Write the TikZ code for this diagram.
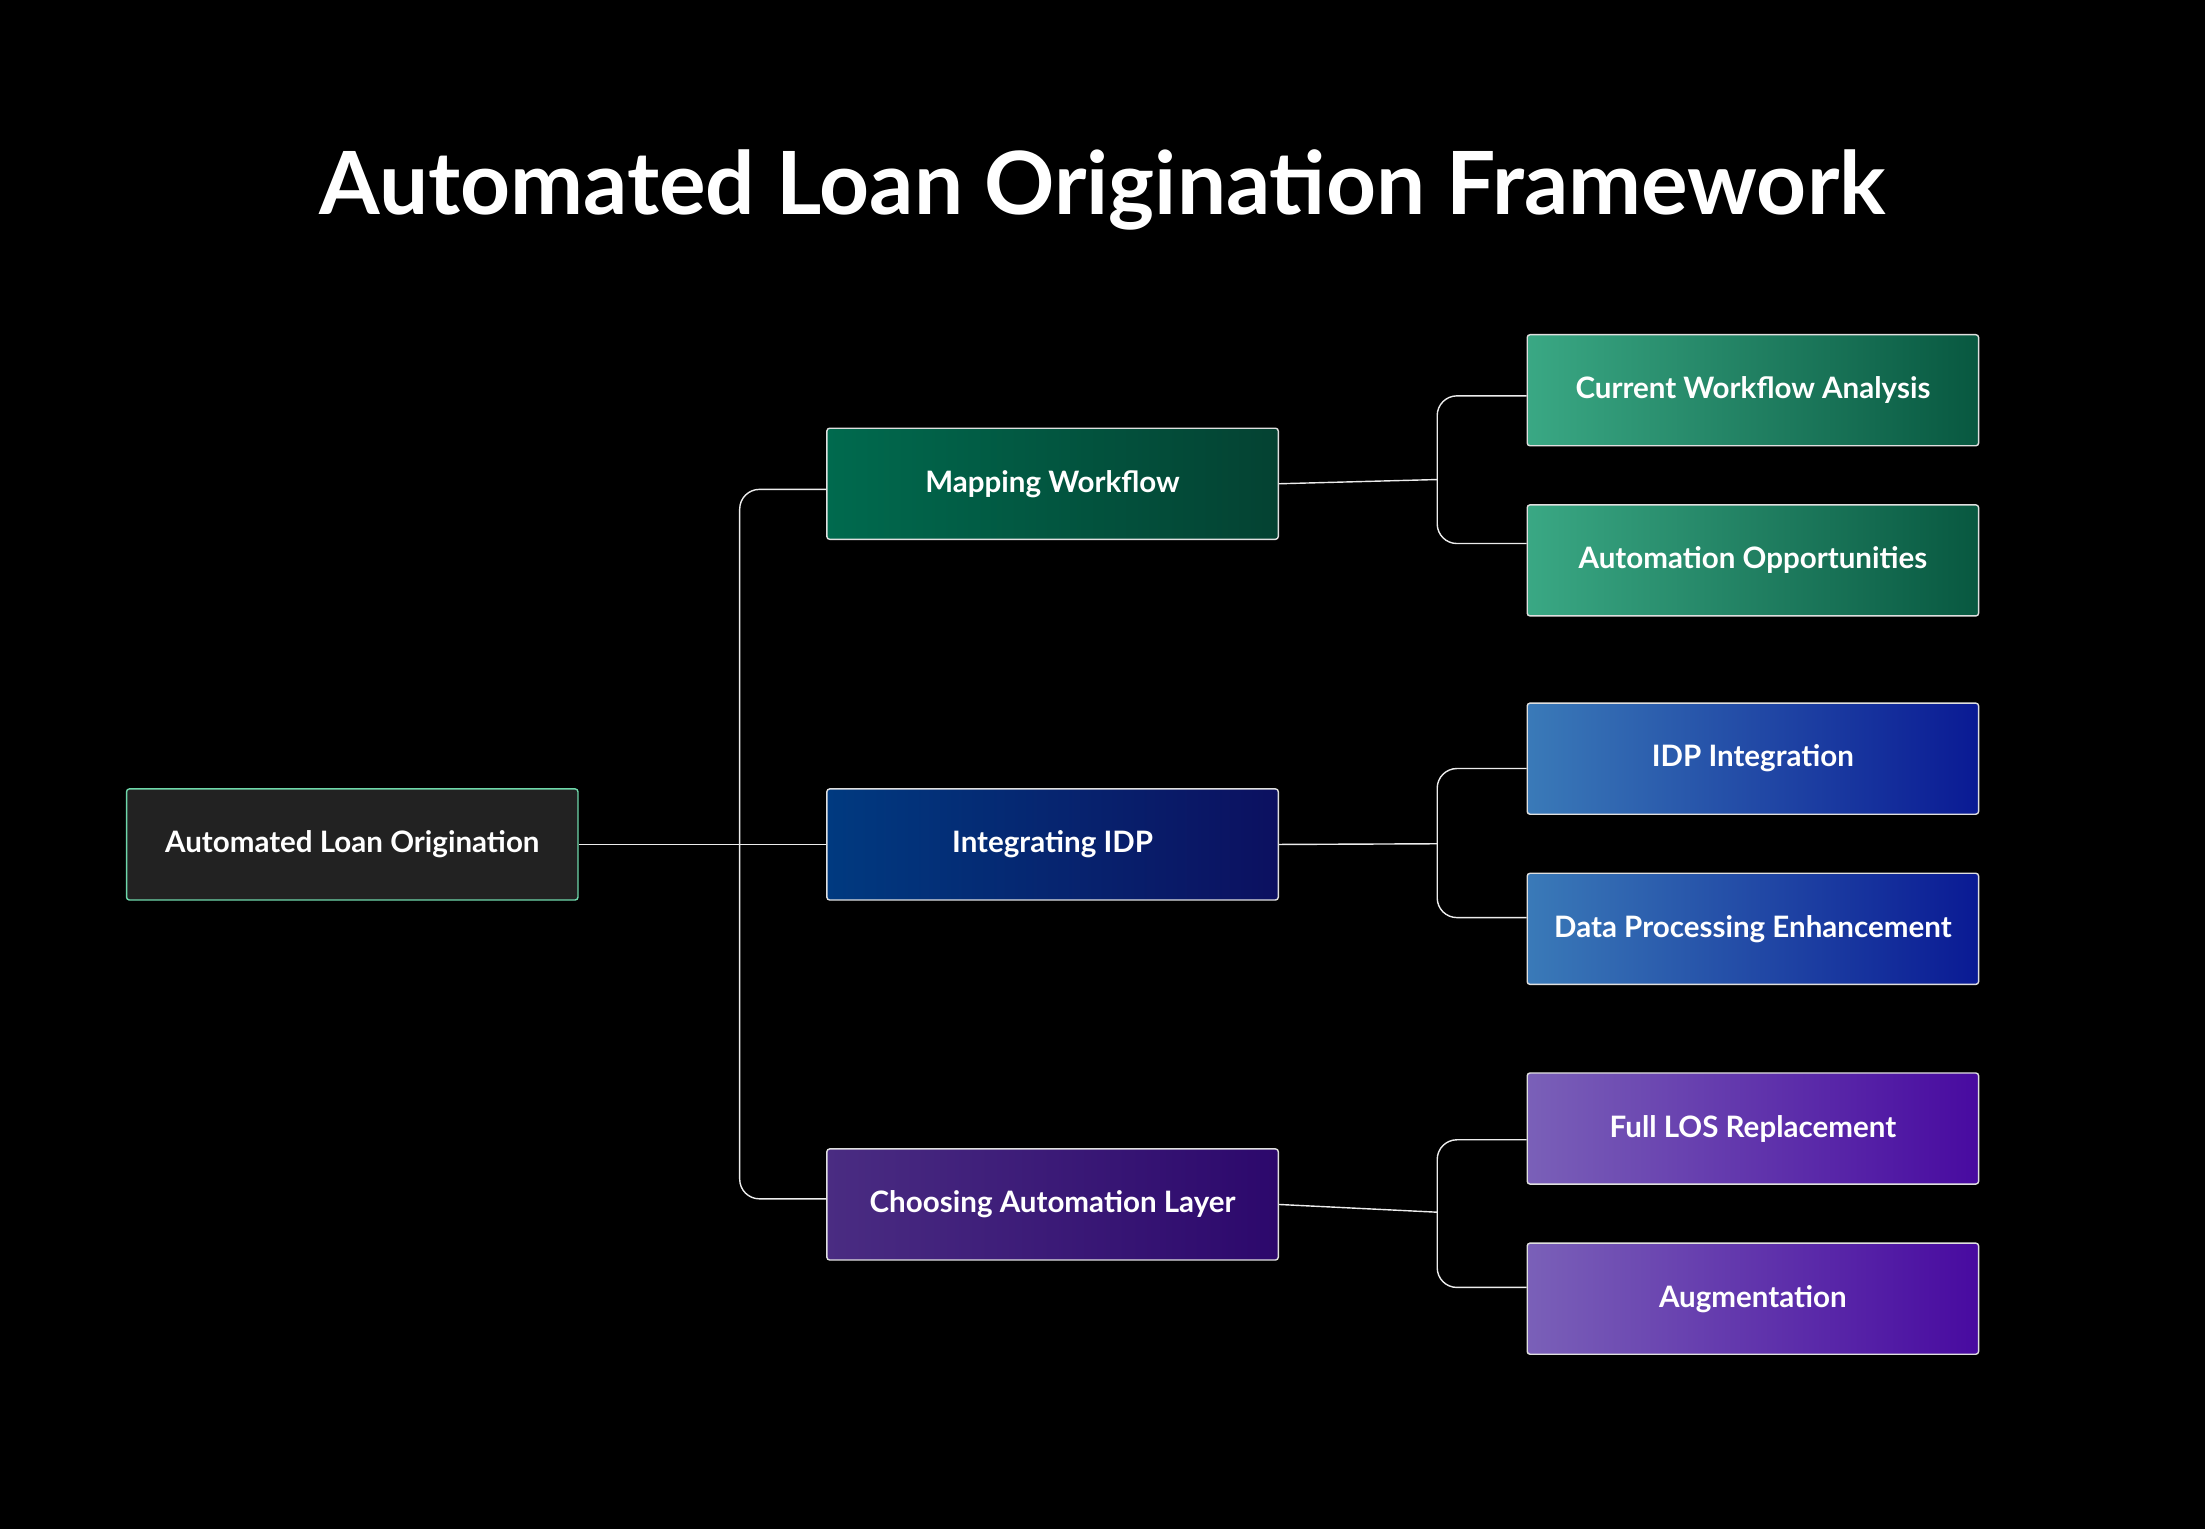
\documentclass[tikz,border=0pt]{standalone}
\usepackage{fontspec}
\setmainfont{Lato}
\begin{document}
\begin{tikzpicture}[x=1pt,y=-1pt,
  box/.style={draw=white!75!gray,line width=1pt,rounded corners=2pt,minimum width=321pt,minimum height=79pt,text=white,font=\fontsize{21}{24}\selectfont\bfseries,inner sep=0pt},
  conn/.style={draw=white!85!gray,line width=1pt,rounded corners=14pt},
  gr/.style={box,left color=green!45!black!70!cyan,right color=black!60!green},
  mw/.style={box,left color=#1,right color=#1}]
\useasboundingbox[fill=black] (0,0) rectangle (1568,1087);
\node[text=white,font=\fontsize{62}{70}\selectfont\bfseries] (title) at (784,135) {Automated Loan Origination Framework};
\node[box,fill={rgb,255:red,34;green,34;blue,34},draw={rgb,255:red,110;green,215;blue,170}] (root) at (250.5,600.5) {Automated Loan Origination};
\node[box,left color={rgb,255:red,0;green,106;blue,78},right color={rgb,255:red,4;green,66;blue,50}] (mw) at (748.5,344) {Mapping Workflow};
\node[box,left color={rgb,255:red,0;green,58;blue,128},right color={rgb,255:red,12;green,16;blue,96}] (ii) at (748.5,600.5) {Integrating IDP};
\node[box,left color={rgb,255:red,74;green,44;blue,130},right color={rgb,255:red,44;green,8;blue,108}] (ca) at (748.5,856.5) {Choosing Automation Layer};
\node[box,left color={rgb,255:red,58;green,168;blue,132},right color={rgb,255:red,8;green,88;blue,64}] (cwa) at (1246.5,277.5) {Current Workflow Analysis};
\node[box,left color={rgb,255:red,58;green,168;blue,132},right color={rgb,255:red,8;green,88;blue,64}] (ao) at (1246.5,398.5) {Automation Opportunities};
\node[box,left color={rgb,255:red,58;green,122;blue,184},right color={rgb,255:red,10;green,26;blue,148}] (idp) at (1246.5,539.5) {IDP Integration};
\node[box,left color={rgb,255:red,58;green,122;blue,184},right color={rgb,255:red,10;green,26;blue,148}] (dpe) at (1246.5,660.5) {Data Processing Enhancement};
\node[box,left color={rgb,255:red,122;green,96;blue,184},right color={rgb,255:red,72;green,10;blue,160}] (flr) at (1246.5,802.5) {Full LOS Replacement};
\node[box,left color={rgb,255:red,122;green,96;blue,184},right color={rgb,255:red,72;green,10;blue,160}] (aug) at (1246.5,923.5) {Augmentation};
% level 1
\draw[conn] (root.east) -- (ii.west);
\draw[conn] ([yshift=-4pt]mw.west) -| (526,600) |- ([yshift=4pt]ca.west);
% level 2
\draw[conn] (mw.east) -- (1022,341);
\draw[conn] ([yshift=-4pt]cwa.west) -| (1022,341) |- ([yshift=12pt]ao.west);
\draw[conn] (ii.east) -- (1022,600);
\draw[conn] ([yshift=-7pt]idp.west) -| (1022,600) |- ([yshift=8pt]dpe.west);
\draw[conn] (ca.east) -- (1022,862);
\draw[conn] ([yshift=-8pt]flr.west) -| (1022,862) |- ([yshift=8pt]aug.west);
\end{tikzpicture}
\end{document}
